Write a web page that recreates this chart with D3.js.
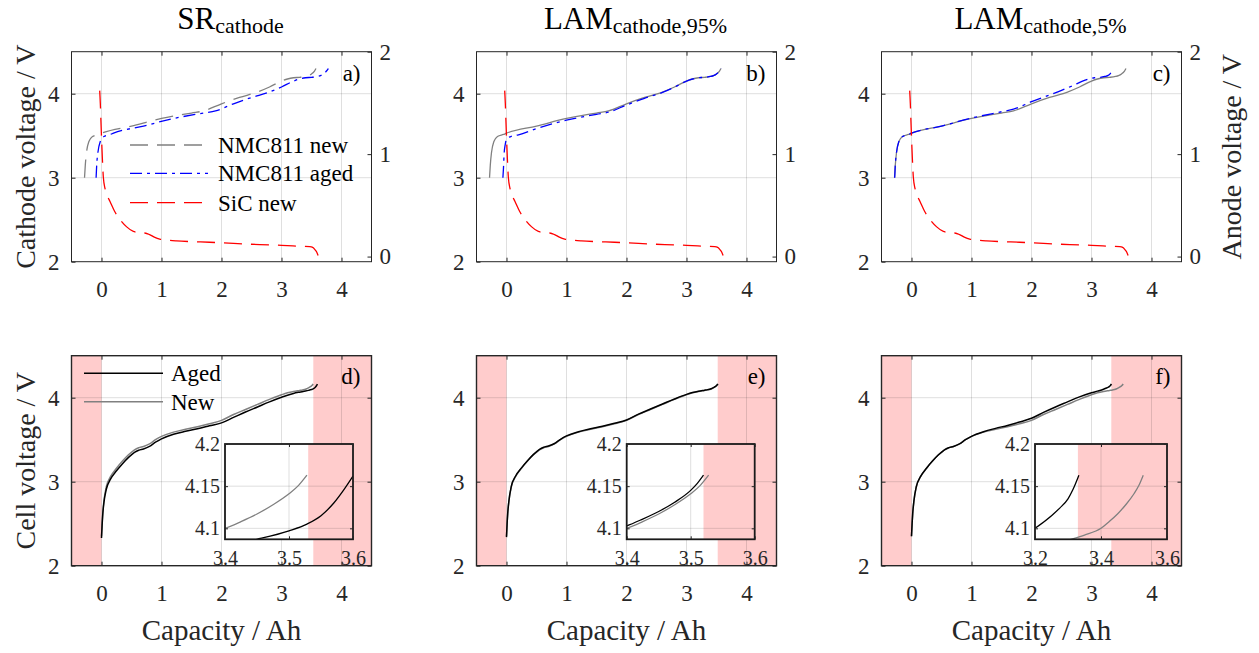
<!DOCTYPE html>
<html>
<head>
<meta charset="utf-8">
<script src="https://cdn.jsdelivr.net/npm/d3@7/dist/d3.min.js"></script>
<style>
  body { margin: 0; background: #fff; }
  svg { display: block; }
</style>
</head>
<body>
<svg id="fig" width="1259" height="653"></svg>
<script>
// ---------------- Data ----------------
const xTicks = [0, 1, 2, 3, 4];
const cathodeTicks = [2, 3, 4];
const anodeTicks = [0, 1, 2];
const cellTicks = [2, 3, 4];
const insetYTicks = [4.1, 4.15, 4.2];

const panelTitles = [["SR", "cathode"], ["LAM", "cathode,95%"], ["LAM", "cathode,5%"]];
const topTags = ["a)", "b)", "c)"];
const bottomTags = ["d)", "e)", "f)"];
const legendTop = ["NMC811 new", "NMC811 aged", "SiC new"];
const legendBottom = ["Aged", "New"];

// NMC811 half-cell, new (cathode voltage vs capacity)
const capNmcNew = [-0.283, -0.27, -0.25, -0.21, -0.15, -0.05, 0, 0.5, 1.0, 1.5, 1.7, 2.0, 2.3, 2.6, 2.8, 3.0, 3.1, 3.2, 3.3, 3.4, 3.45, 3.5, 3.55, 3.575];
const vNmcNew   = [3.0, 3.15, 3.3, 3.43, 3.49, 3.515, 3.53, 3.615, 3.705, 3.77, 3.795, 3.88, 3.955, 4.02, 4.08, 4.15, 4.175, 4.19, 4.195, 4.205, 4.215, 4.235, 4.27, 4.30];

// NMC811 aged, SR scenario
const capNmcAgedSR = [-0.09, -0.08, -0.06, -0.02, 0.04, 0.15, 0.2, 0.7, 1.2, 1.7, 1.9, 2.2, 2.5, 2.8, 3.0, 3.2, 3.3, 3.4, 3.5, 3.6, 3.65, 3.7, 3.75, 3.78];
const vNmcAgedSR   = [3.0, 3.15, 3.3, 3.43, 3.49, 3.515, 3.53, 3.615, 3.705, 3.77, 3.795, 3.88, 3.955, 4.02, 4.08, 4.15, 4.175, 4.19, 4.195, 4.205, 4.215, 4.235, 4.27, 4.30];

// NMC811 aged, LAM 95 % scenario
const capNmcAgedL95 = [-0.06, -0.05, -0.04, -0.02, 0, 0.07, 0.2, 0.5, 1.0, 1.5, 1.7, 2.0, 2.3, 2.6, 2.8, 3.0, 3.1, 3.2, 3.3, 3.4, 3.45, 3.5, 3.55, 3.575];
const vNmcAgedL95   = [3.0, 3.12, 3.28, 3.40, 3.46, 3.49, 3.51, 3.585, 3.685, 3.755, 3.78, 3.865, 3.945, 4.015, 4.078, 4.15, 4.175, 4.19, 4.195, 4.205, 4.215, 4.235, 4.27, 4.30];

// NMC811 aged, LAM 5 % scenario
const capNmcAgedL5 = [-0.28, -0.27, -0.25, -0.21, -0.15, -0.05, 0, 0.5, 1.0, 1.5, 1.7, 2.0, 2.3, 2.5, 2.7, 2.85, 2.95, 3.05, 3.15, 3.22, 3.27, 3.31, 3.34, 3.36];
const vNmcAgedL5   = [3.0, 3.15, 3.3, 3.43, 3.49, 3.515, 3.53, 3.615, 3.71, 3.785, 3.815, 3.905, 3.985, 4.04, 4.1, 4.15, 4.175, 4.19, 4.195, 4.205, 4.215, 4.235, 4.27, 4.30];

// SiC anode, new (anode voltage vs capacity)
const capSiC = [-0.03, -0.02, -0.01, 0, 0.015, 0.03, 0.06, 0.1, 0.14, 0.22, 0.31, 0.42, 0.53, 0.65, 0.72, 0.8, 0.88, 0.97, 1.1, 1.25, 1.5, 1.8, 2.2, 2.64, 3.0, 3.19, 3.35, 3.47, 3.52, 3.56, 3.59, 3.61];
const vSiC   = [1.62, 1.5, 1.33, 1.17, 0.95, 0.78, 0.66, 0.59, 0.54, 0.44, 0.36, 0.29, 0.245, 0.232, 0.23, 0.215, 0.19, 0.17, 0.16, 0.153, 0.146, 0.14, 0.128, 0.117, 0.11, 0.104, 0.1, 0.097, 0.09, 0.065, 0.04, 0.01];

// Full cell, new
const capCellNew = [0, 0.01, 0.02, 0.04, 0.08, 0.15, 0.25, 0.35, 0.45, 0.55, 0.62, 0.7, 0.8, 0.9, 1.0, 1.2, 1.4, 1.6, 1.8, 2.0, 2.2, 2.4, 2.6, 2.8, 3.0, 3.1, 3.2, 3.3, 3.35, 3.4, 3.425, 3.45, 3.475, 3.5, 3.515, 3.528];
const vCellNew   = [2.35, 2.5, 2.62, 2.77, 2.94, 3.06, 3.16, 3.245, 3.32, 3.38, 3.405, 3.42, 3.45, 3.50, 3.54, 3.59, 3.625, 3.655, 3.69, 3.73, 3.80, 3.86, 3.92, 3.98, 4.035, 4.058, 4.074, 4.086, 4.092, 4.10, 4.108, 4.117, 4.128, 4.141, 4.151, 4.163];

// Full cell, aged — SR scenario
const capCellAgedSR = [0, 0.01, 0.02, 0.04, 0.08, 0.15, 0.25, 0.35, 0.45, 0.55, 0.62, 0.7, 0.8, 0.9, 1.0, 1.2, 1.4, 1.6, 1.8, 2.0, 2.2, 2.4, 2.6, 2.8, 3.0, 3.1, 3.2, 3.3, 3.4, 3.45, 3.5, 3.528, 3.55, 3.57, 3.585, 3.6];
const vCellAgedSR   = [2.33, 2.48, 2.6, 2.75, 2.91, 3.03, 3.13, 3.215, 3.29, 3.35, 3.375, 3.39, 3.42, 3.47, 3.51, 3.565, 3.60, 3.63, 3.665, 3.70, 3.765, 3.83, 3.89, 3.95, 4.005, 4.03, 4.051, 4.066, 4.079, 4.087, 4.097, 4.105, 4.115, 4.130, 4.145, 4.162];

// Full cell, aged — LAM 95 % scenario
const capCellAgedL95 = [0, 0.01, 0.02, 0.04, 0.08, 0.15, 0.25, 0.35, 0.45, 0.55, 0.62, 0.7, 0.8, 0.9, 1.0, 1.2, 1.4, 1.6, 1.8, 2.0, 2.2, 2.4, 2.6, 2.8, 3.0, 3.1, 3.2, 3.3, 3.35, 3.4, 3.425, 3.45, 3.475, 3.5, 3.51, 3.52];
const vCellAgedL95   = [2.34, 2.5, 2.62, 2.77, 2.945, 3.065, 3.165, 3.25, 3.325, 3.385, 3.41, 3.425, 3.455, 3.505, 3.545, 3.595, 3.63, 3.66, 3.695, 3.735, 3.805, 3.865, 3.925, 3.985, 4.04, 4.062, 4.078, 4.09, 4.096, 4.103, 4.111, 4.120, 4.131, 4.145, 4.153, 4.163];

// Full cell, aged — LAM 5 % scenario
const capCellAgedL5 = [0, 0.01, 0.02, 0.04, 0.08, 0.15, 0.25, 0.35, 0.45, 0.55, 0.62, 0.7, 0.8, 0.9, 1.0, 1.2, 1.4, 1.6, 1.8, 2.0, 2.2, 2.4, 2.6, 2.8, 3.0, 3.1, 3.2, 3.25, 3.275, 3.3, 3.315, 3.333];
const vCellAgedL5   = [2.35, 2.5, 2.62, 2.77, 2.94, 3.06, 3.16, 3.245, 3.32, 3.38, 3.405, 3.42, 3.45, 3.50, 3.54, 3.595, 3.635, 3.67, 3.71, 3.755, 3.825, 3.89, 3.95, 4.01, 4.058, 4.078, 4.10, 4.115, 4.124, 4.135, 4.146, 4.163];

// capacity beyond which the shaded band starts, per column
const shadeStart = [3.53, 3.52, 3.33];
const insetXDomains = [[3.4, 3.6], [3.4, 3.6], [3.2, 3.6]];
const insetXTicks = [[3.4, 3.5, 3.6], [3.4, 3.5, 3.6], [3.2, 3.4, 3.6]];
const insetYDomain = [4.087, 4.2];

// ---------------- Layout ----------------
const FONT = '"Liberation Serif", "Times New Roman", Times, serif';
const svg = d3.select("#fig");
const defs = svg.append("defs");
const panelLeft = [71.5, 476.5, 881.5];
const panelW = 300;
const topBox = { t: 51.7, b: 261.7 };
const botBox = { t: 355.7, b: 565.7 };
const insetOffset = [153.5, 150.2, 153.5];
const insetWidth = [128, 128, 132];
const insetBox = { t: 444, b: 539.3 };
const axisCol = "#262626";
const gridCol = "rgba(38,38,38,0.15)";
const pink = "#ffcccc";

const zip = (xs, ys) => xs.map((d, i) => [d, ys[i]]);
const fmt = d => String(d);

function clip(id, x, y, w, h) {
  defs.append("clipPath").attr("id", id)
    .append("rect").attr("x", x).attr("y", y).attr("width", w).attr("height", h);
  return `url(#${id})`;
}

function styleAxis(sel, size) {
  sel.select(".domain").remove();
  sel.attr("font-family", FONT).attr("font-size", size).attr("color", axisCol);
  sel.selectAll(".tick line").attr("stroke", axisCol).attr("stroke-width", 1);
  sel.selectAll(".tick text").attr("fill", axisCol);
}

function grid(g, x, y, xs, ys, t, b, l, r) {
  g.append("g").selectAll("line").data(xs).join("line")
    .attr("x1", d => x(d)).attr("x2", d => x(d)).attr("y1", t).attr("y2", b)
    .attr("stroke", gridCol).attr("stroke-width", 1);
  g.append("g").selectAll("line").data(ys).join("line")
    .attr("x1", l).attr("x2", r).attr("y1", d => y(d)).attr("y2", d => y(d))
    .attr("stroke", gridCol).attr("stroke-width", 1);
}

function frame(g, l, t, w, h, col, sw) {
  g.append("rect").attr("x", l).attr("y", t).attr("width", w).attr("height", h)
    .attr("fill", "none").attr("stroke", col).attr("stroke-width", sw);
}

// ---------------- Top row: electrode potentials ----------------
function topPanel(i, capAged, vAged) {
  const L = panelLeft[i], R = L + panelW, T = topBox.t, B = topBox.b;
  const x = d3.scaleLinear().domain([-0.5, 4.5]).range([L, R]);
  const yC = d3.scaleLinear().domain([2, 4.5]).range([B, T]);
  const yA = d3.scaleLinear().domain([-0.05, 2]).range([B, T]);
  const g = svg.append("g");

  grid(g, x, yC, xTicks, [3, 4], T, B, L, R);

  const plot = g.append("g").attr("clip-path", clip("ct" + i, L, T, panelW, B - T));
  const lineC = d3.line().x(d => x(d[0])).y(d => yC(d[1])).curve(d3.curveMonotoneX);
  const lineA = d3.line().x(d => x(d[0])).y(d => yA(d[1])).curve(d3.curveMonotoneX);

  plot.append("path").attr("d", lineC(zip(capNmcNew, vNmcNew)))
    .attr("fill", "none").attr("stroke", "#808080").attr("stroke-width", 1.3)
    .attr("stroke-dasharray", i === 0 ? "18,9" : null);
  plot.append("path").attr("d", lineC(zip(capAged, vAged)))
    .attr("fill", "none").attr("stroke", "#0000ff").attr("stroke-width", 1.3)
    .attr("stroke-dasharray", "12,5,3,5");
  plot.append("path").attr("d", lineA(zip(capSiC, vSiC)))
    .attr("fill", "none").attr("stroke", "#ff0000").attr("stroke-width", 1.3)
    .attr("stroke-dasharray", "18,9");

  frame(g, L, T, panelW, B - T, axisCol, 1);

  g.append("g").attr("transform", `translate(0,${B})`)
    .call(d3.axisBottom(x).tickValues(xTicks).tickSize(-4).tickPadding(19).tickFormat(fmt))
    .call(s => styleAxis(s, 23));
  g.append("g").attr("transform", `translate(0,${T})`)
    .call(d3.axisTop(x).tickValues(xTicks).tickSize(-4).tickFormat(""))
    .call(s => styleAxis(s, 23));
  g.append("g").attr("transform", `translate(${L},0)`)
    .call(d3.axisLeft(yC).tickValues(cathodeTicks).tickSize(-4).tickPadding(12).tickFormat(fmt))
    .call(s => styleAxis(s, 23));
  g.append("g").attr("transform", `translate(${R},0)`)
    .call(d3.axisRight(yA).tickValues(anodeTicks).tickSize(-4).tickPadding(8).tickFormat(fmt))
    .call(s => styleAxis(s, 23));

  g.append("text").attr("x", R - 11).attr("y", 81).attr("text-anchor", "end")
    .attr("font-size", 23).attr("fill", "#000").text(topTags[i]);

  // column title with subscript
  const title = svg.append("text").attr("x", L + panelW / 2 + 9).attr("y", 29)
    .attr("text-anchor", "middle").attr("fill", "#000").attr("font-size", 31);
  title.append("tspan").text(panelTitles[i][0]);
  title.append("tspan").attr("font-size", 22).attr("dy", 4).text(panelTitles[i][1]);

  if (i === 0) {
    const ys = [145, 173.3, 202.7];
    const styles = [["#808080", "18,9"], ["#0000ff", "12,5,3,5"], ["#ff0000", "18,9"]];
    legendTop.forEach((name, k) => {
      g.append("line").attr("x1", 130).attr("x2", 208).attr("y1", ys[k]).attr("y2", ys[k])
        .attr("stroke", styles[k][0]).attr("stroke-width", 1.3).attr("stroke-dasharray", styles[k][1]);
      g.append("text").attr("x", 218).attr("y", ys[k]).attr("dy", "0.35em")
        .attr("font-size", 23).attr("fill", "#000").text(name);
    });
  }
}

// ---------------- Bottom row: full cell ----------------
function bottomPanel(i, capAged, vAged) {
  const L = panelLeft[i], R = L + panelW, T = botBox.t, B = botBox.b;
  const x = d3.scaleLinear().domain([-0.5, 4.5]).range([L, R]);
  const y = d3.scaleLinear().domain([2, 4.5]).range([B, T]);
  const g = svg.append("g");

  g.append("rect").attr("x", x(-0.5)).attr("y", T).attr("width", x(0) - x(-0.5)).attr("height", B - T).attr("fill", pink);
  g.append("rect").attr("x", x(shadeStart[i])).attr("y", T).attr("width", x(4.5) - x(shadeStart[i])).attr("height", B - T).attr("fill", pink);

  grid(g, x, y, xTicks, [3, 4], T, B, L, R);

  const plot = g.append("g").attr("clip-path", clip("cb" + i, L, T, panelW, B - T));
  const line = d3.line().x(d => x(d[0])).y(d => y(d[1])).curve(d3.curveMonotoneX);
  plot.append("path").attr("d", line(zip(capCellNew, vCellNew)))
    .attr("fill", "none").attr("stroke", "#808080").attr("stroke-width", 1.5);
  plot.append("path").attr("d", line(zip(capAged, vAged)))
    .attr("fill", "none").attr("stroke", "#000").attr("stroke-width", 1.5);

  frame(g, L, T, panelW, B - T, axisCol, 1.4);

  g.append("g").attr("transform", `translate(0,${B})`)
    .call(d3.axisBottom(x).tickValues(xTicks).tickSize(-4).tickPadding(19).tickFormat(fmt))
    .call(s => styleAxis(s, 23));
  g.append("g").attr("transform", `translate(0,${T})`)
    .call(d3.axisTop(x).tickValues(xTicks).tickSize(-4).tickFormat(""))
    .call(s => styleAxis(s, 23));
  g.append("g").attr("transform", `translate(${L},0)`)
    .call(d3.axisLeft(y).tickValues(cellTicks).tickSize(-4).tickPadding(12).tickFormat(fmt))
    .call(s => styleAxis(s, 23));
  g.append("g").attr("transform", `translate(${R},0)`)
    .call(d3.axisRight(y).tickValues(cellTicks).tickSize(-4).tickFormat(""))
    .call(s => styleAxis(s, 23));

  g.append("text").attr("x", R - 11).attr("y", 384).attr("text-anchor", "end")
    .attr("font-size", 23).attr("fill", "#000").text(bottomTags[i]);

  svg.append("text").attr("x", L + panelW / 2).attr("y", 640).attr("text-anchor", "middle")
    .attr("font-size", 29).attr("fill", axisCol).text("Capacity / Ah");

  if (i === 0) {
    const ys = [373.3, 401.7];
    const cols = ["#000", "#808080"];
    legendBottom.forEach((name, k) => {
      g.append("line").attr("x1", 84).attr("x2", 163).attr("y1", ys[k]).attr("y2", ys[k])
        .attr("stroke", cols[k]).attr("stroke-width", 1.5);
      g.append("text").attr("x", 171).attr("y", ys[k]).attr("dy", "0.35em")
        .attr("font-size", 23).attr("fill", "#000").text(name);
    });
  }

  // zoomed inset near the end of charge
  const il = L + insetOffset[i], iw = insetWidth[i], it = insetBox.t, ib = insetBox.b;
  const xi = d3.scaleLinear().domain(insetXDomains[i]).range([il, il + iw]);
  const yi = d3.scaleLinear().domain(insetYDomain).range([ib, it]);
  const gi = svg.append("g");
  gi.append("rect").attr("x", il).attr("y", it).attr("width", iw).attr("height", ib - it).attr("fill", "#fff");
  const s0 = Math.max(shadeStart[i], insetXDomains[i][0]);
  gi.append("rect").attr("x", xi(s0)).attr("y", it).attr("width", il + iw - xi(s0)).attr("height", ib - it).attr("fill", pink);
  grid(gi, xi, yi, insetXTicks[i].slice(1, -1), [4.1, 4.15], it, ib, il, il + iw);

  const iplot = gi.append("g").attr("clip-path", clip("ci" + i, il, it, iw, ib - it));
  const iline = d3.line().x(d => xi(d[0])).y(d => yi(d[1])).curve(d3.curveMonotoneX);
  iplot.append("path").attr("d", iline(zip(capCellNew, vCellNew)))
    .attr("fill", "none").attr("stroke", "#808080").attr("stroke-width", 1.3);
  iplot.append("path").attr("d", iline(zip(capAged, vAged)))
    .attr("fill", "none").attr("stroke", "#000").attr("stroke-width", 1.3);

  frame(gi, il, it, iw, ib - it, "#1a1a1a", 1.8);

  gi.append("g").attr("transform", `translate(0,${ib})`)
    .call(d3.axisBottom(xi).tickValues(insetXTicks[i]).tickSize(-3).tickPadding(12).tickFormat(fmt))
    .call(s => styleAxis(s, 20));
  gi.append("g").attr("transform", `translate(0,${it})`)
    .call(d3.axisTop(xi).tickValues(insetXTicks[i]).tickSize(-3).tickFormat(""))
    .call(s => styleAxis(s, 20));
  gi.append("g").attr("transform", `translate(${il},0)`)
    .call(d3.axisLeft(yi).tickValues(insetYTicks).tickSize(-3).tickPadding(5).tickFormat(fmt))
    .call(s => styleAxis(s, 20));
  gi.append("g").attr("transform", `translate(${il + iw},0)`)
    .call(d3.axisRight(yi).tickValues(insetYTicks).tickSize(-3).tickFormat(""))
    .call(s => styleAxis(s, 20));
}

topPanel(0, capNmcAgedSR, vNmcAgedSR);
topPanel(1, capNmcAgedL95, vNmcAgedL95);
topPanel(2, capNmcAgedL5, vNmcAgedL5);
bottomPanel(0, capCellAgedSR, vCellAgedSR);
bottomPanel(1, capCellAgedL95, vCellAgedL95);
bottomPanel(2, capCellAgedL5, vCellAgedL5);

// axis titles
svg.append("text").attr("transform", "translate(35,156.7) rotate(-90)").attr("text-anchor", "middle")
  .attr("font-size", 28).attr("fill", axisCol).text("Cathode voltage / V");
svg.append("text").attr("transform", "translate(35,460.7) rotate(-90)").attr("text-anchor", "middle")
  .attr("font-size", 28).attr("fill", axisCol).text("Cell voltage / V");
svg.append("text").attr("transform", "translate(1241,156.7) rotate(-90)").attr("text-anchor", "middle")
  .attr("font-size", 28).attr("fill", axisCol).text("Anode voltage / V");

// one serif face for every label
svg.selectAll("text").style("font-family", FONT);
</script>
</body>
</html>
